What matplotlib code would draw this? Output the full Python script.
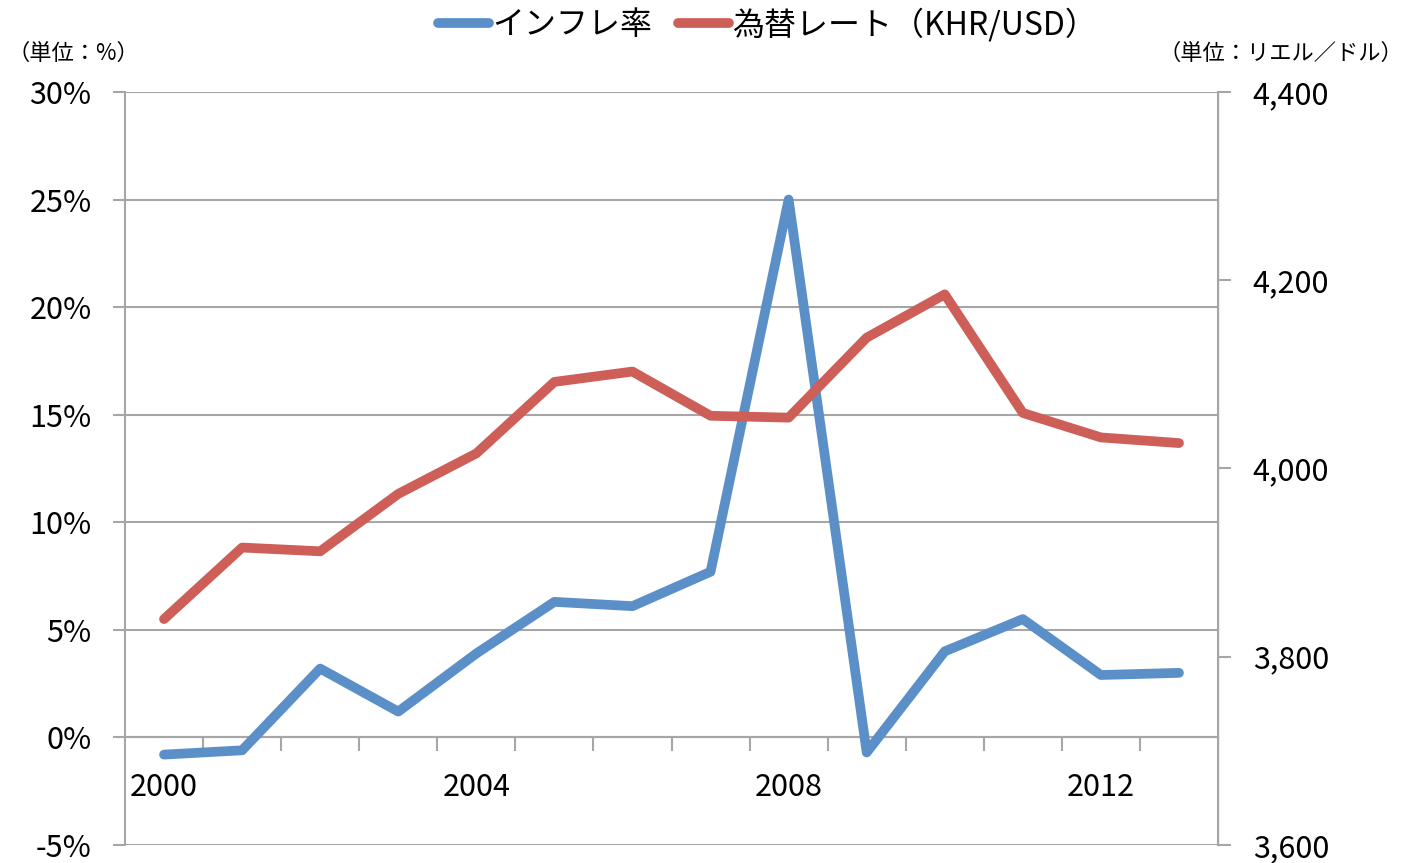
import matplotlib
matplotlib.use('Agg')
import matplotlib.pyplot as plt
from matplotlib.ticker import FixedLocator, FuncFormatter

plt.rcParams['font.family'] = ['Noto Sans CJK JP', 'DejaVu Sans']

years = list(range(2000, 2014))
inflation = [-0.8, -0.6, 3.2, 1.2, 3.9, 6.3, 6.1, 7.7, 25.0, -0.7, 4.0, 5.5, 2.9, 3.0]
exchange = [3840, 3916, 3912, 3973, 4016, 4092, 4103, 4056, 4054, 4139, 4185, 4059, 4033, 4027]
year_labels = ['2000', '2004', '2008', '2012']

blue = '#5b8fc8'
red = '#cd5f58'
gray = '#a6a6a6'

fig = plt.figure(figsize=(14.06, 8.63), dpi=100)
ax = fig.add_axes([0.0889, 0.0209, 0.7774, 0.8725])
ax2 = ax.twinx()

x = list(range(len(years)))
ax.set_xlim(-0.5, len(years) - 0.5)
ax.set_ylim(-5, 30)
ax2.set_ylim(3600, 4400)

# grid
for v in range(-5, 31, 5):
    ax.axhline(v, color=gray, lw=1.5, zorder=1)

l1, = ax.plot(x, inflation, color=blue, lw=7, solid_capstyle='round',
              solid_joinstyle='round', zorder=3)
l2, = ax2.plot(x, exchange, color=red, lw=7, solid_capstyle='round',
               solid_joinstyle='round', zorder=3)

# spines
ax.spines['top'].set_visible(False)
ax2.spines['top'].set_visible(False)
ax.spines['bottom'].set_position(('data', 0))
ax.spines['bottom'].set_color(gray)
ax.spines['bottom'].set_linewidth(1.5)
ax.spines['left'].set_color(gray)
ax.spines['left'].set_linewidth(1.5)
ax2.spines['right'].set_color(gray)
ax2.spines['right'].set_linewidth(1.5)
ax2.spines['left'].set_visible(False)
ax2.spines['bottom'].set_visible(False)

# y ticks
ax.set_yticks(range(-5, 31, 5))
ax.yaxis.set_major_formatter(FuncFormatter(lambda v, p: '%d%%' % v))
ax.tick_params(axis='y', direction='out', length=9, width=1.5, color=gray,
               labelsize=22, pad=15)
ax2.set_yticks(range(3600, 4401, 200))
ax2.yaxis.set_major_formatter(FuncFormatter(lambda v, p: '{:,.0f}'.format(v)))
ax2.tick_params(axis='y', direction='out', length=9, width=1.5, color=gray,
                labelsize=22, pad=16)

# x ticks: marks at category boundaries, labels every 4 years
ax.xaxis.set_major_locator(FixedLocator([i + 0.5 for i in range(len(years) - 1)]))
ax.xaxis.set_major_formatter(FuncFormatter(lambda v, p: ''))
ax.xaxis.set_minor_locator(FixedLocator([years.index(int(y)) for y in year_labels]))
ax.xaxis.set_minor_formatter(FuncFormatter(lambda v, p: str(years[int(round(v))])))
ax.tick_params(axis='x', which='major', direction='out', length=10, width=1.5, color=gray)
ax.tick_params(axis='x', which='minor', length=0, labelsize=22, pad=25)

ax2.set_zorder(ax.get_zorder() + 1)
ax2.patch.set_visible(False)

fig.text(0.005, 0.938, '（単位：%）', fontsize=16, ha='left', va='center')
fig.text(0.998, 0.938, '（単位：リエル／ドル）', fontsize=16, ha='right', va='center')

fig.legend([l1, l2], ['インフレ率', '為替レート（KHR/USD）'], loc='upper center',
           bbox_to_anchor=(0.546, 1.025), ncol=2, frameon=False, fontsize=23,
           handlelength=1.6, handletextpad=0.1, columnspacing=0.8)

fig.savefig('out.png', dpi=100)
